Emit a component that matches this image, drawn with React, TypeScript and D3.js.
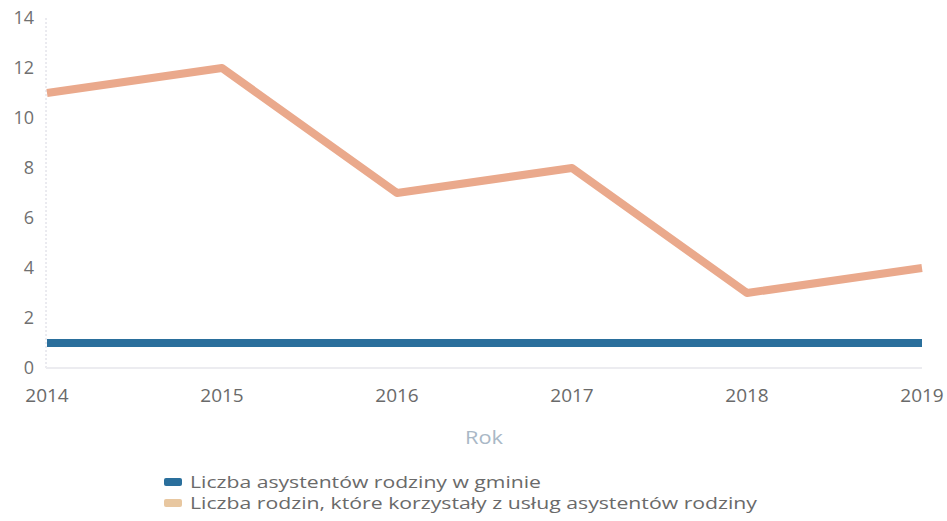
import React, { useRef, useEffect } from "react";
import * as d3 from "d3";

const years = ["2014", "2015", "2016", "2017", "2018", "2019"];
const asystenci = [1, 1, 1, 1, 1, 1];
const rodziny = [11, 12, 7, 8, 3, 4];
const yTicks = [0, 2, 4, 6, 8, 10, 12, 14];
const seriesNames = [
  "Liczba asystentów rodziny w gminie",
  "Liczba rodzin, które korzystały z usług asystentów rodziny",
];
// approximate rendered widths of the legend labels in the source
const legendWidths = [351, 567];

const W = 947;
const H = 521;
const FONT = "'Open Sans', 'DejaVu Sans', sans-serif";

const App = () => {
  const ref = useRef<SVGSVGElement | null>(null);

  useEffect(() => {
    if (!ref.current) return;
    const svg = d3.select(ref.current);
    svg.selectAll("*").remove();

    const x = d3.scalePoint().domain(years).range([47, 922]);
    const y = d3.scaleLinear().domain([0, 14]).range([368, 18]);

    // faint axis lines
    svg
      .append("line")
      .attr("x1", 46)
      .attr("x2", 46)
      .attr("y1", 18)
      .attr("y2", 368)
      .attr("stroke", "#d6d6e0")
      .attr("stroke-width", 1)
      .attr("stroke-dasharray", "2,2");
    svg
      .append("line")
      .attr("x1", 46)
      .attr("x2", 922)
      .attr("y1", 368)
      .attr("y2", 368)
      .attr("stroke", "#ececf0")
      .attr("stroke-width", 2);

    // y ticks
    svg
      .append("g")
      .selectAll("text")
      .data(yTicks)
      .enter()
      .append("text")
      .attr("x", 34)
      .attr("y", (d) => y(d))
      .attr("dy", "0.35em")
      .attr("text-anchor", "end")
      .attr("font-family", FONT)
      .attr("font-size", 18)
      .attr("fill", "#707070")
      .text((d) => d);

    // x ticks
    svg
      .append("g")
      .selectAll("text")
      .data(years)
      .enter()
      .append("text")
      .attr("x", (d) => x(d) as number)
      .attr("y", 395)
      .attr("dy", "0.35em")
      .attr("text-anchor", "middle")
      .attr("font-family", FONT)
      .attr("font-size", 19)
      .attr("fill", "#6a6a6a")
      .text((d) => d);

    svg
      .append("text")
      .attr("x", 465)
      .attr("y", 437)
      .attr("dy", "0.35em")
      .attr("textLength", 38)
      .attr("lengthAdjust", "spacingAndGlyphs")
      .attr("font-family", FONT)
      .attr("font-size", 19)
      .attr("fill", "#a9b8c6")
      .text("Rok");

    const line = d3
      .line<number>()
      .x((_, i) => x(years[i]) as number)
      .y((d) => y(d));

    svg
      .append("path")
      .datum(rodziny)
      .attr("fill", "none")
      .attr("stroke", "#eaa98c")
      .attr("stroke-width", 8)
      .attr("stroke-linejoin", "round")
      .attr("d", line as any);

    svg
      .append("path")
      .datum(asystenci)
      .attr("fill", "none")
      .attr("stroke", "#2a6f9c")
      .attr("stroke-width", 8)
      .attr("d", line as any);

    // legend
    const colors = ["#2a6f9c", "#e8c7a0"];
    const leg = svg
      .append("g")
      .selectAll("g")
      .data(seriesNames)
      .enter()
      .append("g")
      .attr("transform", (_, i) => `translate(164,${482 + i * 21})`);
    leg
      .append("rect")
      .attr("x", 0)
      .attr("y", -4)
      .attr("width", 18)
      .attr("height", 8)
      .attr("rx", 2)
      .attr("fill", (_, i) => colors[i]);
    leg
      .append("text")
      .attr("x", 26)
      .attr("y", 0)
      .attr("dy", "0.35em")
      .attr("textLength", (_, i) => legendWidths[i])
      .attr("lengthAdjust", "spacingAndGlyphs")
      .attr("font-family", FONT)
      .attr("font-size", 17)
      .attr("fill", "#6a6a6a")
      .text((d) => d);
  }, []);

  return (
    <svg
      ref={ref}
      width={W}
      height={H}
      style={{ position: "absolute", left: 0, top: 0, background: "#fff" }}
    />
  );
};

export default App;
